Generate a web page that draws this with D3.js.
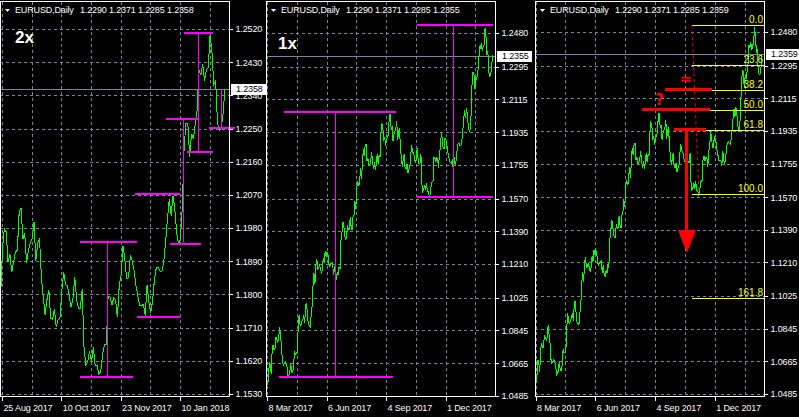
<!DOCTYPE html>
<html><head><meta charset="utf-8">
<script src="https://cdn.jsdelivr.net/npm/d3@7"></script>
<style>
html,body{margin:0;padding:0;background:#000;}
svg{display:block;}
</style></head><body>
<svg id="chart" width="799" height="417"></svg>
<script>
// ---------------- DATA ----------------
const startDate = "2017-03-08";
const holidays = ["2017-12-25", "2018-01-01"];
// EURUSD daily closes, 8 Mar 2017 .. 13 Feb 2018 (trading days)
const closes = [
 1.0543,1.0581,1.0671,1.0658,1.0604,1.0733,1.0765,1.0740,1.0742,1.0808,1.0795,1.0783,1.0798,1.0866,1.0815,1.0765,1.0677,1.0652,
 1.0666,1.0674,1.0664,1.0645,1.0592,1.0600,1.0616,1.0668,1.0613,1.0616,1.0642,1.0731,1.0714,1.0716,1.0727,1.0858,1.0930,1.0877,1.0873,1.0895,
 1.0903,1.0930,1.0886,1.0984,1.0998,1.0924,1.0876,1.0874,1.0865,1.0931,1.0981,1.1095,1.1158,1.1101,1.1207,1.1240,1.1182,1.1185,1.1209,1.1181,1.1163,1.1180,1.1243,
 1.1214,1.1281,1.1252,1.1276,1.1262,1.1210,1.1196,1.1212,1.1212,1.1217,1.1150,1.1198,1.1144,1.1133,1.1165,1.1150,1.1195,1.1183,1.1337,1.1375,1.1442,1.1426,
 1.1362,1.1348,1.1350,1.1423,1.1399,1.1402,1.1466,1.1413,1.1398,1.1469,1.1477,1.1557,1.1514,1.1632,1.1664,1.1643,1.1647,1.1737,1.1677,1.1750,1.1841,
 1.1802,1.1859,1.1869,1.1775,1.1792,1.1755,1.1757,1.1774,1.1823,1.1779,1.1731,1.1770,1.1726,1.1761,1.1813,1.1763,1.1806,1.1799,1.1923,1.1979,1.1970,1.1887,1.1909,
 1.1860,1.1888,1.1916,1.1919,1.2023,1.2035,1.1950,1.1966,1.1885,1.1921,1.1941,1.1951,1.1997,1.1891,1.1940,1.1950,1.1846,1.1794,1.1745,1.1786,1.1813,
 1.1736,1.1733,1.1760,1.1711,1.1731,1.1736,1.1808,1.1862,1.1826,1.1823,1.1797,1.1765,1.1787,1.1847,1.1785,1.1762,1.1762,1.1814,1.1654,1.1608,1.1619,1.1646,
 1.1617,1.1656,1.1607,1.1608,1.1583,1.1591,1.1637,1.1664,1.1664,1.1795,1.1794,1.1771,1.1791,1.1786,1.1738,1.1825,1.1851,1.1931,1.1896,1.1843,1.1846,1.1904,
 1.1893,1.1864,1.1824,1.1797,1.1771,1.1769,1.1773,1.1743,1.1826,1.1778,1.1750,1.1784,1.1841,1.1873,1.1874,1.1863,1.1862,1.1888,1.1942,1.2005,
 1.2058,1.2014,1.2068,1.2030,1.1966,1.1937,1.1949,1.2034,1.2200,1.2265,1.2262,1.2173,1.2236,1.2222,1.2262,1.2300,1.2410,1.2395,1.2425,1.2380,1.2410,1.2414,
 1.2505,1.2458,1.2370,1.2380,1.2265,1.2245,1.2250,1.2290,1.2358
];
const symbolTitle = "EURUSD,Daily";
const panelQuotes = [
 [1.2290, 1.2371, 1.2285, 1.2358],
 [1.2290, 1.2371, 1.2285, 1.2355],
 [1.2290, 1.2371, 1.2285, 1.2359]
];
const bidPrices = [1.2358, 1.2355, 1.2359];
const zoomLabels = ["2x", "1x", ""];
const p1PriceTicks = [1.2520,1.2430,1.2340,1.2250,1.2160,1.2070,1.1980,1.1890,1.1800,1.1710,1.1620,1.1530];
const p23PriceTicks = [1.2480,1.2295,1.2115,1.1935,1.1755,1.1570,1.1390,1.1210,1.1025,1.0845,1.0665,1.0485];
const p1DateTicks = ["2017-08-25","2017-10-10","2017-11-23","2018-01-10"];
const p23DateTicks = ["2017-03-08","2017-06-06","2017-09-04","2017-12-01"];

// Magenta measured-move lines: horizontals [price, fromBar, toBar], verticals [bar, fromPrice, toPrice]
const p1Horizontals = [
 [1.1942,164.1,194.8],[1.1576,164.1,192.7],
 [1.2072,193.8,218.0],[1.1740,194.8,218.2],
 [1.2275,210.5,228.3],[1.1937,212.6,229.4],
 [1.2508,220.2,235.9],[1.2187,221.8,235.9],
 [1.2251,233.7,247.8]
];
const p1Verticals = [[178.8,1.1942,1.1576],[219.5,1.2275,1.1942],[227.9,1.2508,1.2187],[240.0,1.2358,1.2251]];
const p2Horizontals = [[1.2046,18.3,138.7],[1.0591,12.9,135.5],[1.2524,161.3,243],[1.1577,161.3,243]];
const p2Verticals = [[73.1,1.2046,1.0591],[200,1.2524,1.1577]];

// Fibonacci retracement (panel 3)
const fibHigh = {bar:167.6, price:1.2517};
const fibLow = {bar:174.9, price:1.1587};
const fibLevels = [0, 23.6, 38.2, 50, 61.8, 100, 161.8];
const p3RedHorizontals = [[1.2162,138.7,189.0],[1.2052,114.0,186.8],[1.1942,148.3,182.6]];
const p3Arrow = {bar:162.2, from:1.1942, base:1.1389, tip:1.1262};
const p3Marks = [{text:"\u2248", bar:161.0, price:1.2191}, {text:"?", bar:132.8, price:1.2078}];

// ---------------- BUILD DATES ----------------
const parse = d3.utcParse("%Y-%m-%d");
const fmtISO = d3.utcFormat("%Y-%m-%d");
const fmtLabel = d3.utcFormat("%-d %b %Y");
const dates = [];
for (let d = parse(startDate); dates.length < closes.length; d = d3.utcDay.offset(d, 1)) {
  const wd = d.getUTCDay();
  if (wd === 0 || wd === 6 || holidays.includes(fmtISO(d))) continue;
  dates.push(d);
}
const barOf = s => dates.findIndex(d => fmtISO(d) === s);

// ---------------- LAYOUT ----------------
const TOP = 2, BOTTOM = 397;
const panels = [
 {left:0,   right:229, xDomain:[122,242], xRange:[2,224.4],     yDomain:[1.1530,1.2520], yRange:[394,29], priceTicks:p1PriceTicks,  dateTicks:p1DateTicks,  gridStep:16, zoomPos:[15,43]},
 {left:266, right:495, xDomain:[0,242],   xRange:[267,492],     yDomain:[1.0485,1.2480], yRange:[396,33], priceTicks:p23PriceTicks, dateTicks:p23DateTicks, gridStep:32, zoomPos:[278,49]},
 {left:535, right:764, xDomain:[0,242],   xRange:[535.5,761.5], yDomain:[1.0485,1.2480], yRange:[394,32], priceTicks:p23PriceTicks, dateTicks:p23DateTicks, gridStep:32, zoomPos:[0,0]}
];
const FONT = "'Liberation Sans', Arial, sans-serif";
const GRID = "#778899", MAG = "#ff00ff", RED = "#ff0000", YEL = "#ffff00", GREEN = "#00ff00";

const svg = d3.select("#chart");
svg.append("rect").attr("width",799).attr("height",417).attr("fill","#000");
const defs = svg.append("defs");
const px = v => Math.round(v) + 0.5;

panels.forEach((p, pi) => {
  const x = d3.scaleLinear().domain(p.xDomain).range(p.xRange);
  const y = d3.scaleLinear().domain(p.yDomain).range(p.yRange);
  const g = svg.append("g");
  defs.append("clipPath").attr("id","clip"+pi).append("rect")
    .attr("x",p.left).attr("y",TOP).attr("width",p.right-p.left).attr("height",BOTTOM-TOP);

  // grid
  const grid = g.append("g").attr("stroke",GRID).attr("stroke-width",1)
    .attr("stroke-dasharray","3,3").attr("shape-rendering","crispEdges");
  p.priceTicks.forEach(v => grid.append("line")
    .attr("x1",p.left).attr("x2",p.right).attr("y1",px(y(v))).attr("y2",px(y(v))));
  d3.range(p.xDomain[0], p.xDomain[1]+1, p.gridStep).forEach(b => grid.append("line")
    .attr("x1",px(x(b))).attr("x2",px(x(b))).attr("y1",TOP).attr("y2",BOTTOM));

  // bid line
  g.append("line").attr("x1",p.left).attr("x2",p.right)
    .attr("y1",px(y(bidPrices[pi]))).attr("y2",px(y(bidPrices[pi])))
    .attr("stroke",GRID).attr("shape-rendering","crispEdges");

  // price line
  g.append("path").datum(closes)
    .attr("clip-path","url(#clip"+pi+")")
    .attr("fill","none").attr("stroke",GREEN).attr("stroke-width",1)
    .attr("shape-rendering","crispEdges")
    .attr("d", d3.line().x((d,i)=>x(i)+0.5).y(d=>y(d)));

  // annotations
  const ann = g.append("g").attr("shape-rendering","crispEdges");
  const hz = pi===0 ? p1Horizontals : pi===1 ? p2Horizontals : [];
  const vt = pi===0 ? p1Verticals : pi===1 ? p2Verticals : [];
  hz.forEach(([v,a,b]) => ann.append("line").attr("stroke",MAG).attr("stroke-width",2)
    .attr("x1",x(a)).attr("x2",x(b)).attr("y1",Math.round(y(v))).attr("y2",Math.round(y(v))));
  vt.forEach(([b,v1,v2]) => ann.append("line").attr("stroke",MAG).attr("stroke-width",1)
    .attr("x1",px(x(b))).attr("x2",px(x(b))).attr("y1",y(v1)).attr("y2",y(v2)));

  if (pi === 2) {
    const rng = fibHigh.price - fibLow.price;
    fibLevels.forEach(l => {
      const v = fibHigh.price - l/100*rng;
      ann.append("line").attr("stroke",YEL).attr("stroke-width",1)
        .attr("x1",x(fibHigh.bar)).attr("x2",p.right).attr("y1",px(y(v))).attr("y2",px(y(v)));
      ann.append("text").attr("x",p.right-1).attr("y",Math.round(y(v))-2)
        .attr("text-anchor","end").attr("fill",YEL).attr("font-family",FONT).attr("font-size",10)
        .text(l.toFixed(1));
    });
    ann.append("line").attr("stroke",RED).attr("stroke-width",1).attr("stroke-dasharray","3,3")
      .attr("shape-rendering","auto")
      .attr("x1",x(fibHigh.bar)).attr("y1",y(fibHigh.price)).attr("x2",x(fibLow.bar)).attr("y2",y(fibLow.price));
    p3RedHorizontals.forEach(([v,a,b]) => ann.append("line").attr("stroke",RED).attr("stroke-width",2.5)
      .attr("x1",x(a)).attr("x2",x(b)).attr("y1",y(v)).attr("y2",y(v)));
    const ax = x(p3Arrow.bar);
    ann.append("line").attr("stroke",RED).attr("stroke-width",3)
      .attr("x1",ax).attr("x2",ax).attr("y1",y(p3Arrow.from)).attr("y2",y(p3Arrow.base));
    ann.append("path").attr("fill",RED).attr("shape-rendering","auto")
      .attr("d",`M${ax-9},${y(p3Arrow.base)}L${ax+9},${y(p3Arrow.base)}L${ax},${y(p3Arrow.tip)}Z`);
    p3Marks.forEach(m => ann.append("text").attr("x",x(m.bar)).attr("y",y(m.price))
      .attr("text-anchor","middle").attr("fill",RED).attr("font-family","'DejaVu Sans', sans-serif")
      .attr("font-size",15).attr("font-weight","bold").text(m.text));
  }

  // border
  g.append("rect").attr("x",p.left+0.5).attr("y",TOP-0.5).attr("width",p.right-p.left).attr("height",BOTTOM-TOP)
    .attr("fill","none").attr("stroke","#fff").attr("shape-rendering","crispEdges");

  // y axis
  const ya = g.append("g").attr("transform",`translate(${p.right+0.5},0)`)
    .call(d3.axisRight(y).tickValues(p.priceTicks).tickFormat(d3.format(".4f")).tickSize(3).tickPadding(3));
  ya.select(".domain").remove();
  ya.attr("font-family",FONT).attr("font-size",9);
  ya.selectAll("line").attr("stroke","#fff").attr("shape-rendering","crispEdges");
  ya.selectAll("text").attr("fill","#fff").style("letter-spacing","-0.15px");

  // x axis
  const tickBars = p.dateTicks.map(barOf);
  const xa = g.append("g").attr("transform",`translate(0,${BOTTOM})`)
    .call(d3.axisBottom(x).tickValues(tickBars).tickFormat(b => fmtLabel(dates[b])).tickSize(4).tickPadding(4));
  xa.select(".domain").remove();
  xa.attr("font-family",FONT).attr("font-size",9);
  xa.selectAll("line").attr("stroke","#fff").attr("shape-rendering","crispEdges");
  xa.selectAll("text").attr("fill","#fff").attr("text-anchor","start").attr("dx","1")
    .style("letter-spacing","-0.15px");

  // bid box
  const by = y(bidPrices[pi]);
  g.append("rect").attr("x",p.right+2).attr("y",Math.round(by)-5).attr("width",35).attr("height",11).attr("fill","#fff");
  g.append("text").attr("x",p.right+7).attr("y",by).attr("dy","0.32em")
    .attr("fill","#000").attr("font-family",FONT).attr("font-size",9).style("letter-spacing","-0.15px")
    .text(d3.format(".4f")(bidPrices[pi]));

  // title
  g.append("path").attr("fill","#fff").attr("d",`M${p.left+5},9L${p.left+10},9L${p.left+7.5},12Z`);
  g.append("text").attr("x",p.left+15).attr("y",13).attr("fill","#fff").attr("font-family",FONT)
    .attr("font-size",9).style("letter-spacing","-0.15px").text(symbolTitle);
  g.append("text").attr("x",p.left+80).attr("y",13).attr("fill","#fff").attr("font-family",FONT)
    .attr("font-size",9).style("letter-spacing","-0.15px")
    .text(panelQuotes[pi].map(d3.format(".4f")).join(" "));

  if (zoomLabels[pi]) {
    g.append("text").attr("x",p.zoomPos[0]).attr("y",p.zoomPos[1]).attr("fill","#fff")
      .attr("font-family",FONT).attr("font-size",17).attr("font-weight","bold").text(zoomLabels[pi]);
  }
});
</script>
</body></html>
